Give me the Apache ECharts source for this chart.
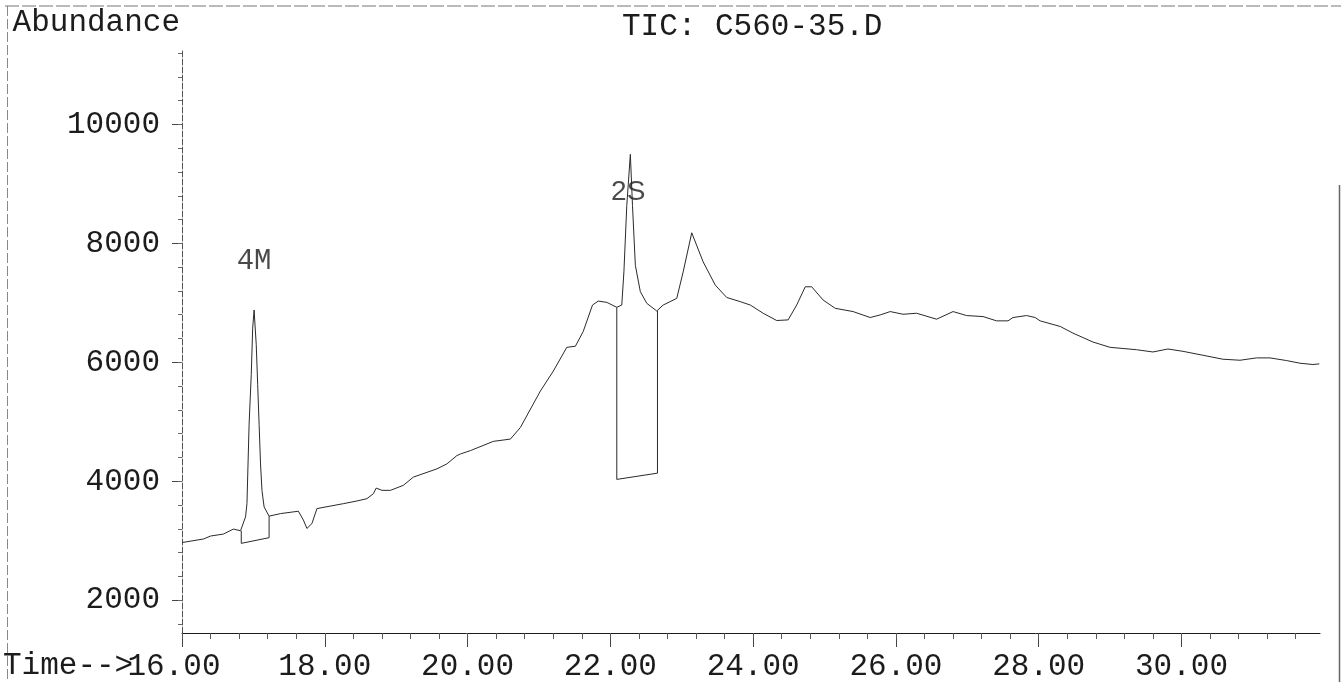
<!DOCTYPE html>
<html>
<head>
<meta charset="utf-8">
<script src="https://cdn.jsdelivr.net/npm/echarts@6/dist/echarts.min.js"></script>
<style>
html,body{margin:0;padding:0;background:#fff;}
#chart{width:1341px;height:682px;}
</style>
</head>
<body>
<div id="chart"></div>
<script>
// ---- data ----
const chartTitle = 'TIC: C560-35.D';
const yAxisTitle = 'Abundance';
const xAxisPrefix = 'Time-->';
const xMajorTicks = [16, 18, 20, 22, 24, 26, 28, 30];
const yMajorTicks = [2000, 4000, 6000, 8000, 10000];
const xMinorStep = 0.4;
const yMinorStep = 400;

const ticTimes = [16.00,16.30,16.40,16.58,16.72,16.82,16.84,16.89,16.91,16.94,16.97,16.99,17.01,17.04,17.06,17.08,17.10,17.12,17.15,17.22,
  17.38,17.63,17.70,17.75,17.82,17.89,18.26,18.45,18.59,18.68,18.72,18.80,18.92,19.10,19.24,19.57,19.71,19.85,19.90,20.04,
  20.36,20.60,20.74,21.02,21.20,21.39,21.51,21.62,21.75,21.83,21.95,22.09,22.16,22.19,22.23,22.28,22.31,22.35,22.42,22.51,
  22.65,22.74,22.93,23.02,23.14,23.30,23.47,23.63,23.82,23.96,24.14,24.33,24.49,24.61,24.73,24.82,24.98,25.15,25.40,25.64,
  25.78,25.92,26.10,26.29,26.57,26.80,26.99,27.22,27.41,27.57,27.64,27.83,27.95,28.02,28.30,28.48,28.76,29.00,29.37,29.60,
  29.81,30.02,30.30,30.58,30.82,31.05,31.24,31.47,31.66,31.84,31.93];
const ticAbundance = [2970,3030,3080,3113,3197,3169,3180,3402,3624,4960,5795,6574,6880,6296,5628,4960,4292,3848,3569,3414,
  3457,3497,3350,3207,3290,3541,3624,3669,3708,3791,3886,3848,3848,3932,4070,4209,4292,4432,4459,4516,
  4671,4710,4905,5518,5851,6252,6270,6519,6963,7030,7008,6925,6963,7521,8633,9496,8633,7631,7187,6992,
  6863,6963,7075,7521,8177,7688,7297,7090,7020,6963,6825,6703,6713,6963,7270,7270,7047,6908,6853,6753,
  6797,6853,6808,6825,6725,6853,6786,6769,6697,6697,6753,6786,6753,6697,6603,6491,6341,6252,6212,6174,
  6224,6185,6119,6052,6035,6074,6074,6030,5985,5963,5974];

// integration baselines (peak boxes)
const box4MTimes = [16.83, 16.83, 17.22, 17.22];
const box4MValues = [3169, 2957, 3052, 3414];
const box2STimes = [22.09, 22.09, 22.66, 22.66];
const box2SValues = [6925, 4032, 4137, 6863];

// peak labels
const peakNames = ['4M', '2S'];
const peakLabelTimes = [17.01, 22.25];
const peakLabelValues = [7690, 8860];
const peakLabelFonts = ['"Liberation Mono", "Courier New", monospace', '"Liberation Sans", Arial, sans-serif'];

// ---- build ----
const zip = (a, b) => a.map((v, i) => [v, b[i]]);
const xMinor = [];
for (let v = 16; v <= 31.9; v += xMinorStep) xMinor.push(Math.round(v * 10) / 10);
const yMinor = [];
for (let v = 1600; v <= 11200; v += yMinorStep) yMinor.push(v);

const MONO = '"Liberation Mono", "Courier New", monospace';
const INK = '#1c1c1c';
const X_MIN = 16, X_MAX = 31.94, Y_MIN = 1450, Y_MAX = 11250;

const chart = echarts.init(document.getElementById('chart'), null, {renderer: 'canvas'});
chart.setOption({
  backgroundColor: '#ffffff',
  animation: false,
  title: {
    text: chartTitle, left: 617, top: 6,
    textStyle: {fontFamily: MONO, fontSize: 31, fontWeight: 'normal', color: INK}
  },
  grid: {left: 182, right: 21, top: 50, bottom: 45, containLabel: false},
  xAxis: [{
    type: 'value', min: X_MIN, max: X_MAX, position: 'bottom',
    axisLine: {show: true, lineStyle: {color: INK, width: 1}},
    axisTick: {show: true, customValues: xMajorTicks, length: 14, lineStyle: {color: '#444', width: 1}},
    axisLabel: {
      show: true, customValues: xMajorTicks, margin: 18,
      fontFamily: MONO, fontSize: 31, color: INK,
      formatter: v => v === 16 ? '{f|' + v.toFixed(2) + '}' : v.toFixed(2),
      rich: {f: {fontFamily: MONO, fontSize: 31, color: INK, padding: [0, 16, 0, 0]}}
    },
    splitLine: {show: false}
  }, {
    type: 'value', min: X_MIN, max: X_MAX, position: 'bottom',
    axisLine: {show: false},
    axisTick: {show: true, customValues: xMinor, length: 6, lineStyle: {color: '#555', width: 1}},
    axisLabel: {show: false},
    splitLine: {show: false}
  }],
  yAxis: [{
    type: 'value', min: Y_MIN, max: Y_MAX, position: 'left',
    name: yAxisTitle, nameLocation: 'end', nameGap: 27,
    nameTextStyle: {fontFamily: MONO, fontSize: 31, color: INK, align: 'right', verticalAlign: 'middle', padding: [0, 2, 0, 0]},
    axisLine: {show: true, lineStyle: {color: '#555', width: 1, type: [6, 2]}},
    axisTick: {show: true, customValues: yMajorTicks, length: 10, lineStyle: {color: '#444', width: 1}},
    axisLabel: {show: true, customValues: yMajorTicks, margin: 22, fontFamily: MONO, fontSize: 31, color: INK,
      formatter: v => String(v)},
    splitLine: {show: false}
  }, {
    type: 'value', min: Y_MIN, max: Y_MAX, position: 'left',
    axisLine: {show: false},
    axisTick: {show: true, customValues: yMinor, length: 4, lineStyle: {color: '#666', width: 1}},
    axisLabel: {show: false},
    splitLine: {show: false}
  }],
  graphic: [
    {type: 'text', left: 3, top: 650, style: {text: xAxisPrefix, font: '31px ' + MONO, fill: INK}},
    {type: 'line', shape: {x1: 5, y1: 6, x2: 1341, y2: 6}, style: {stroke: '#777', lineWidth: 1, lineDash: [14, 3]}},
    {type: 'line', shape: {x1: 7.5, y1: 6, x2: 7.5, y2: 682}, style: {stroke: '#888', lineWidth: 1, lineDash: [10, 3]}},
    {type: 'line', shape: {x1: 1339.5, y1: 185, x2: 1339.5, y2: 682}, style: {stroke: '#666', lineWidth: 1.5}}
  ],
  series: [{
    type: 'line', xAxisIndex: 0, yAxisIndex: 0,
    data: zip(ticTimes, ticAbundance),
    showSymbol: false, symbol: 'none', smooth: false,
    lineStyle: {color: '#2a2a2a', width: 1}
  }, {
    type: 'line', xAxisIndex: 0, yAxisIndex: 0,
    data: zip(box4MTimes, box4MValues),
    showSymbol: false, symbol: 'none',
    lineStyle: {color: '#2a2a2a', width: 1}
  }, {
    type: 'line', xAxisIndex: 0, yAxisIndex: 0,
    data: zip(box2STimes, box2SValues),
    showSymbol: false, symbol: 'none',
    lineStyle: {color: '#2a2a2a', width: 1}
  }, {
    type: 'scatter', xAxisIndex: 0, yAxisIndex: 0,
    symbolSize: 0,
    data: peakNames.map((n, i) => ({
      name: n, value: [peakLabelTimes[i], peakLabelValues[i]],
      label: {show: true, position: 'inside', formatter: '{b}', fontFamily: peakLabelFonts[i],
        fontSize: i === 0 ? 29 : 28, color: INK}
    }))
  }]
});
</script>
</body>
</html>
